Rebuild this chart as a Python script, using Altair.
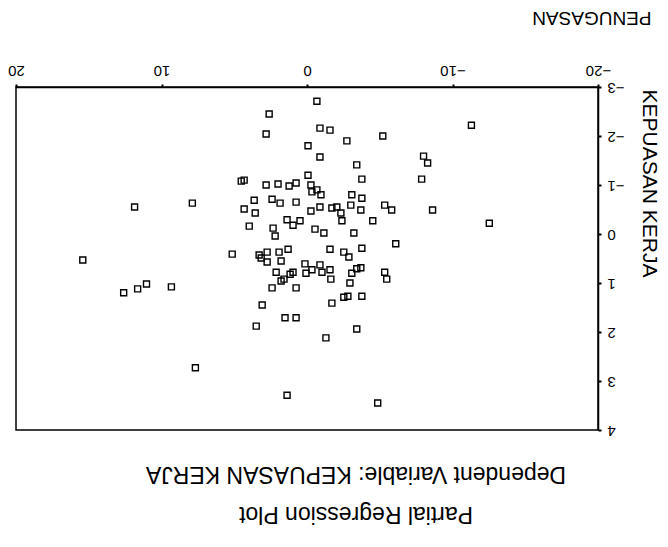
import altair as alt
import pandas as pd

# Partial regression residuals read from the (upside-down) scanned plot
penugasan = [
    -0.68, 2.60, -11.30, -0.89, -1.58, 2.81, -5.21, -2.74, -0.07, -8.01,
    -0.89, -8.29, -3.42, -0.07, -3.77, -7.88, 4.52, 4.32, 2.81, 1.99,
    1.23, 0.75, -0.27, -0.34, -0.68, -0.96, -3.08, -3.77, 3.63, 2.40,
    1.85, 0.75, 7.88, 11.85, 4.32, 3.56, -0.27, -0.89, -1.71, -2.05,
    -2.33, -3.01, -3.70, -5.34, -5.82, -8.63, 1.37, 0.96, 0.48, -2.40,
    -4.52, -12.53, 3.97, 2.33, 2.19, -0.55, -1.16, -3.22, -6.10, -1.58,
    -2.53, -2.88, -3.77, 5.14, 3.29, 3.15, 2.74, 2.74, 1.92, 1.78,
    1.30, 15.41, 0.14, -0.89, -0.34, -1.03, -1.58, -1.64, 0.07, -3.08,
    -3.42, -3.70, -2.95, -5.34, -5.48, 2.12, 1.78, 1.58, 1.16, 0.96,
    2.40, 0.75, 12.60, 11.64, 11.03, 9.32, -2.53, -2.81, -3.77, -1.71,
    3.08, 1.51, 0.75, 3.49, -3.42, -1.30, 7.67, 1.37, -4.86,
]
kepuasan_kerja = [
    -2.71, -2.45, -2.22, -2.16, -2.12, -2.04, -2.00, -1.90, -1.80, -1.59,
    -1.57, -1.45, -1.41, -1.20, -1.12, -1.12, -1.08, -1.10, -1.00, -1.02,
    -0.98, -1.04, -1.00, -0.86, -0.90, -0.80, -0.80, -0.73, -0.69, -0.71,
    -0.63, -0.65, -0.63, -0.55, -0.51, -0.43, -0.47, -0.55, -0.53, -0.55,
    -0.43, -0.59, -0.49, -0.59, -0.49, -0.49, -0.29, -0.18, -0.27, -0.27,
    -0.27, -0.22, -0.16, -0.12, 0.04, -0.10, -0.02, -0.02, 0.20, 0.31,
    0.37, 0.47, 0.29, 0.41, 0.43, 0.49, 0.37, 0.57, 0.37, 0.55,
    0.31, 0.53, 0.61, 0.63, 0.73, 0.78, 0.73, 0.92, 0.80, 0.80,
    0.71, 0.69, 1.00, 0.78, 0.92, 0.78, 0.96, 0.92, 0.82, 0.78,
    1.10, 1.10, 1.20, 1.12, 1.02, 1.08, 1.29, 1.27, 1.27, 1.41,
    1.45, 1.71, 1.71, 1.88, 1.94, 2.12, 2.73, 3.29, 3.45,
]
x_ticks = [-20, -10, 0, 10, 20]
y_ticks = [-3, -2, -1, 0, 1, 2, 3, 4]
title_lines = ["Partial Regression Plot", "Dependent Variable: KEPUASAN KERJA"]

df = pd.DataFrame({"PENUGASAN": penugasan, "KEPUASAN": kepuasan_kerja})

FONT = "Liberation Sans"

chart = (
    alt.Chart(df)
    .mark_point(shape="square", filled=False, color="black", strokeWidth=1.4, size=36, opacity=1)
    .encode(
        x=alt.X(
            "PENUGASAN:Q",
            scale=alt.Scale(domain=[-20, 20], reverse=True, nice=False, zero=False),
            axis=alt.Axis(
                orient="top", values=x_ticks, labelAngle=180, labelBaseline="top",
                labelAlign="center", labelPadding=7, tickSize=3, tickWidth=2,
                grid=False, labelFontSize=15,
                title="PENUGASAN", titleAngle=180, titleAlign="left",
                titleBaseline="alphabetic", titleX=635, titleY=-76,
                titleFontSize=19, titleFontWeight="normal",
            ),
        ),
        y=alt.Y(
            "KEPUASAN:Q",
            scale=alt.Scale(domain=[-3, 4], reverse=True, nice=False, zero=False),
            axis=alt.Axis(
                orient="right", values=y_ticks, labelAngle=180, labelAlign="right",
                labelBaseline="middle", labelPadding=6, tickSize=3, tickWidth=2,
                grid=False, labelFontSize=15,
                title="KEPUASAN KERJA", titleAngle=90, titleAlign="left",
                titleBaseline="alphabetic", titleX=44, titleY=2,
                titleFontSize=21, titleFontWeight="normal",
            ),
        ),
    )
    .properties(
        width=582,
        height=343,
        title=alt.TitleParams(
            text=title_lines, orient="bottom", angle=180, anchor="middle",
            fontSize=23, fontWeight="normal", lineHeight=40, offset=88,
            dx=-49, color="black", font=FONT,
        ),
        autosize=alt.AutoSizeParams(type="none"),
        padding={"left": 8, "top": 79, "right": 62, "bottom": 116},
        background="white",
    )
    .configure(font=FONT)
    .configure_axis(
        labelFont=FONT, titleFont=FONT, labelColor="black", titleColor="black",
        domainColor="black", tickColor="black", domainWidth=1.5,
    )
    .configure_view(stroke="black", strokeWidth=1.5)
)

chart.save("out.html", embed_options={"renderer": "svg", "actions": False})
